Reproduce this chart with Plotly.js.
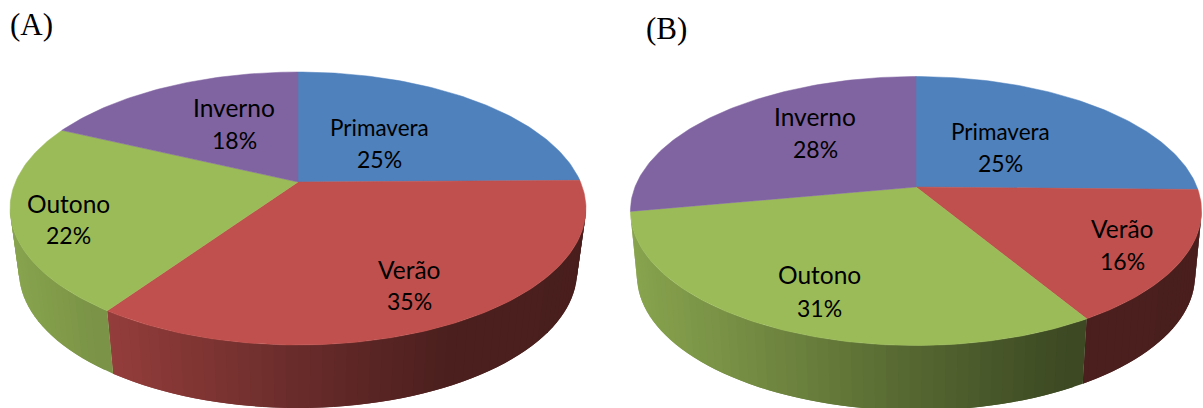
<!DOCTYPE html>
<html><head><meta charset="utf-8">
<script src="https://cdn.plot.ly/plotly-3.0.1.min.js"></script>
<style>html,body{margin:0;padding:0;background:#fff}#c{width:1203px;height:408px}</style>
</head><body><div id="c"></div>
<script>
const categories = ['Primavera','Verão','Outono','Inverno'];
const valuesA = [24.8, 34.8, 22.4, 18];
const valuesB = [25.3, 16.1, 30.7, 27.9];
const panelLabels = ['(A)','(B)'];
const colors = ['#4F81BD','#C0504D','#9BBB59','#8064A2'];

// layout only
const pies = [
  {values:valuesA, cx:298, cy:182, a:282.5, far:110, near:163, depth:63, s:0.969,
   labels:[[379,127,22.5],[409,269,24.5],[68,203,24.5],[234,107,24.5]],
   pct:[[379,159],[409,301],[68,235],[234,140]], tag:[31,24]},
  {values:valuesB, cx:916, cy:187, a:281, far:110.5, near:158.5, depth:65, s:0.977,
   labels:[[1000,131,22.5],[1122,228,24.5],[819,274,24.5],[815,116,24.5]],
   pct:[[1000,163],[1122,261],[819,308],[815,149]], tag:[666,28]}
];

function project(p, th, lower){
  const k = (p.near-p.far)/(p.near+p.far), b = p.far*(1+k);
  const u = Math.sin(th), v = Math.cos(th), w = 1+k*v;
  const s = lower ? p.s : 1, d = lower ? p.depth : 0;
  return [p.cx + s*p.a*u/w, p.cy - b*v/w + d];
}
const stops = [[0,.88],[.17,.78],[.5,.56],[.78,.39],[1,.38]];
function shade(t){
  for(let i=1;i<stops.length;i++){
    if(t<=stops[i][0]){
      const f=(t-stops[i-1][0])/(stops[i][0]-stops[i-1][0]);
      return stops[i-1][1]+f*(stops[i][1]-stops[i-1][1]);
    }
  }
  return stops[stops.length-1][1];
}
function scale(hex,f){
  const n=[1,3,5].map(i=>Math.round(parseInt(hex.substr(i,2),16)*f));
  return `rgb(${n[0]},${n[1]},${n[2]})`;
}
const traces=[], annotations=[];
function poly(xy,color,lw){
  traces.push({type:'scatter',mode:'lines',x:xy.map(q=>q[0]),y:xy.map(q=>q[1]),fill:'toself',
    fillcolor:color,line:{color:color,width:lw},hoverinfo:'skip',showlegend:false});
}
pies.forEach(p=>{
  const total=p.values.reduce((x,y)=>x+y,0);
  const edges=[0]; p.values.forEach(v=>edges.push(edges[edges.length-1]+v/total*2*Math.PI));
  const lo=100*Math.PI/180, hi=259*Math.PI/180, step=2*Math.PI/180;
  // side wall: strips overlap the next one so no seams show
  edges.slice(0,-1).forEach((e0,i)=>{
    const from=Math.max(e0,lo), to=Math.min(edges[i+1],hi);
    const strips=[];
    for(let t=from;t<to-1e-6;t+=step) strips.push(t);
    strips.reverse().forEach(t=>{
      const t2=Math.min(t+step*2,to);
      const q=[project(p,t),project(p,t2),project(p,t2,true),project(p,t,true)];
      const xm=project(p,t+step/2)[0];
      const f=shade((xm-(p.cx-p.a*1.02))/(2*p.a*1.02));
      poly(q.concat([q[0]]),scale(colors[i],f),0);
    });
  });
  // top slices
  edges.slice(0,-1).forEach((e0,i)=>{
    const pts=[[p.cx,p.cy]], n=Math.ceil((edges[i+1]-e0)/(Math.PI/180));
    for(let j=0;j<=n;j++) pts.push(project(p,e0+(edges[i+1]-e0)*j/n));
    pts.push([p.cx,p.cy]);
    poly(pts,colors[i],0.5);
  });
  categories.forEach((c,i)=>{
    const f={family:'Lato, Carlito, sans-serif',size:p.labels[i][2],color:'#000'};
    annotations.push({x:p.labels[i][0],y:p.labels[i][1],text:c,showarrow:false,font:f,xanchor:'center',yanchor:'middle'});
    annotations.push({x:p.pct[i][0],y:p.pct[i][1],text:Math.round(p.values[i]/total*100)+'%',showarrow:false,
      font:{family:'Lato, Carlito, sans-serif',size:23,color:'#000'},xanchor:'center',yanchor:'middle'});
  });
});
pies.forEach((p,i)=>annotations.push({x:p.tag[0],y:p.tag[1],text:panelLabels[i],showarrow:false,
  font:{family:'Liberation Serif, serif',size:31,color:'#000'},xanchor:'center',yanchor:'middle'}));

Plotly.newPlot('c',traces,{
  width:1203,height:408,margin:{l:0,r:0,t:0,b:0},paper_bgcolor:'#fff',plot_bgcolor:'#fff',showlegend:false,
  xaxis:{range:[0,1203],visible:false,fixedrange:true},
  yaxis:{range:[408,0],visible:false,fixedrange:true},
  annotations
},{staticPlot:true,displayModeBar:false});
</script></body></html>
